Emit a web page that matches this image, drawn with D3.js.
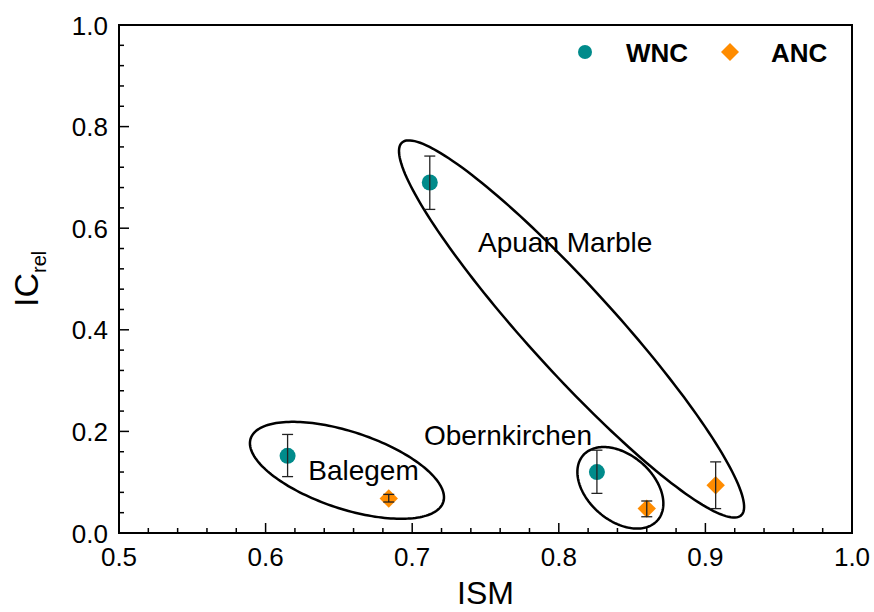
<!DOCTYPE html>
<html>
<head>
<meta charset="utf-8">
<script src="https://cdn.jsdelivr.net/npm/d3@7"></script>
<style>
  body { margin: 0; background: #fff; }
  text { font-family: Arial, "Liberation Sans", sans-serif; }
</style>
</head>
<body>
<div id="chart"></div>
<script>
// ISM vs IC_rel, three stones, WNC and ANC series
var wncIsm = [0.615, 0.712, 0.826];
var wncIc = [0.152, 0.690, 0.120];
var wncLow = [0.111, 0.637, 0.078];
var wncHigh = [0.194, 0.742, 0.163];

var ancIsm = [0.684, 0.860, 0.907];
var ancIc = [0.068, 0.048, 0.094];
var ancLow = [0.061, 0.032, 0.048];
var ancHigh = [0.076, 0.063, 0.140];

var xTicks = [0.5, 0.6, 0.7, 0.8, 0.9, 1.0];
var yTicks = [0.0, 0.2, 0.4, 0.6, 0.8, 1.0];

// groups drawn as ellipses: centre in data units
var groupNames = ["Balegem", "Obernkirchen", "Apuan Marble"];
var groupCx = [0.6555, 0.842, 0.8087];
var groupCy = [0.1234, 0.089, 0.4016];
var labelX = [0.6291, 0.708, 0.7449];
var labelY = [0.1037, 0.1726, 0.5526];

var width = 874, height = 612;
var m = {top: 25, right: 22, bottom: 79, left: 119};

var svg = d3.select("#chart").append("svg")
    .attr("width", width)
    .attr("height", height);

var x = d3.scaleLinear().domain([0.5, 1.0]).range([m.left, width - m.right]);
var y = d3.scaleLinear().domain([0, 1]).range([height - m.bottom, m.top]);

// ellipse shapes (px): semi-axes and tilt
var ellShape = [
    {a: 101.4, b: 38.5, rot: 18.3},
    {a: 49.4, b: 32.7, rot: 41.1},
    {a: 252, b: 43, rot: 47.7}
];

// minor + major ticks, inward
var xMinor = d3.range(0.5, 1.0001, 0.02);
var yMinor = d3.range(0, 1.0001, 0.04);

svg.append("g").selectAll("line")
    .data(xMinor)
    .enter().append("line")
    .attr("x1", function (d) { return x(d); })
    .attr("x2", function (d) { return x(d); })
    .attr("y1", y(0))
    .attr("y2", function (d) {
        var major = Math.abs(Math.round(d * 10) - d * 10) < 1e-6;
        return y(0) - (major ? 10 : 5);
    })
    .attr("stroke", "#000")
    .attr("stroke-width", 1.5);

svg.append("g").selectAll("line")
    .data(yMinor)
    .enter().append("line")
    .attr("y1", function (d) { return y(d); })
    .attr("y2", function (d) { return y(d); })
    .attr("x1", x(0.5))
    .attr("x2", function (d) {
        var major = Math.abs(Math.round(d * 5) - d * 5) < 1e-6;
        return x(0.5) + (major ? 10 : 5);
    })
    .attr("stroke", "#000")
    .attr("stroke-width", 1.5);

// frame
svg.append("rect")
    .attr("x", x(0.5))
    .attr("y", y(1))
    .attr("width", x(1) - x(0.5))
    .attr("height", y(0) - y(1))
    .attr("fill", "none")
    .attr("stroke", "#000")
    .attr("stroke-width", 2);

svg.append("g").selectAll("text")
    .data(xTicks)
    .enter().append("text")
    .attr("x", function (d) { return x(d); })
    .attr("y", y(0) + 33)
    .attr("text-anchor", "middle")
    .attr("font-size", 26)
    .text(function (d) { return d.toFixed(1); });

svg.append("g").selectAll("text")
    .data(yTicks)
    .enter().append("text")
    .attr("x", x(0.5) - 11)
    .attr("y", function (d) { return y(d) + 9.5; })
    .attr("text-anchor", "end")
    .attr("font-size", 26)
    .text(function (d) { return d.toFixed(1); });

// axis titles
svg.append("text")
    .attr("x", (x(0.5) + x(1)) / 2)
    .attr("y", 604)
    .attr("text-anchor", "middle")
    .attr("font-size", 32)
    .text("ISM");

var yt = svg.append("text")
    .attr("transform", "translate(38,307) rotate(-90)")
    .attr("font-size", 34);
yt.append("tspan").text("IC");
yt.append("tspan")
    .attr("font-size", 20)
    .attr("dy", 8)
    .text("rel");

// ellipses
var ell = d3.line().curve(d3.curveLinearClosed);
svg.append("g").selectAll("path")
    .data(groupNames)
    .enter().append("path")
    .attr("d", function (d, i) {
        var s = ellShape[i], cx = x(groupCx[i]), cy = y(groupCy[i]);
        var t = s.rot * Math.PI / 180;
        var pts = d3.range(0, 2 * Math.PI, Math.PI / 90).map(function (p) {
            var ex = s.a * Math.cos(p), ey = s.b * Math.sin(p);
            return [cx + ex * Math.cos(t) - ey * Math.sin(t), cy + ex * Math.sin(t) + ey * Math.cos(t)];
        });
        return ell(pts);
    })
    .attr("fill", "none")
    .attr("stroke", "#000")
    .attr("stroke-width", 2.5);

svg.append("g").selectAll("text")
    .data(groupNames)
    .enter().append("text")
    .attr("x", function (d, i) { return x(labelX[i]); })
    .attr("y", function (d, i) { return y(labelY[i]); })
    .attr("font-size", 28)
    .text(function (d) { return d; });

// markers
var teal = "#008b8b", orange = "#ff8c00";

svg.append("g").selectAll("circle")
    .data(wncIsm)
    .enter().append("circle")
    .attr("cx", function (d) { return x(d); })
    .attr("cy", function (d, i) { return y(wncIc[i]); })
    .attr("r", 8)
    .attr("fill", teal);

svg.append("g").selectAll("path")
    .data(ancIsm)
    .enter().append("path")
    .attr("d", function (d, i) {
        var cx = x(d), cy = y(ancIc[i]), h = 9.2;
        return "M" + cx + "," + (cy - h) + "L" + (cx + h) + "," + cy + "L" + cx + "," + (cy + h) + "L" + (cx - h) + "," + cy + "Z";
    })
    .attr("fill", orange);

// error bars
function errBars(xs, lo, hi) {
    var g = svg.append("g").attr("stroke", "#222").attr("stroke-width", 1.3);
    xs.forEach(function (d, i) {
        var px = x(d);
        g.append("line").attr("x1", px).attr("x2", px).attr("y1", y(lo[i])).attr("y2", y(hi[i]));
        g.append("line").attr("x1", px - 5.5).attr("x2", px + 5.5).attr("y1", y(lo[i])).attr("y2", y(lo[i]));
        g.append("line").attr("x1", px - 5.5).attr("x2", px + 5.5).attr("y1", y(hi[i])).attr("y2", y(hi[i]));
    });
}
errBars(wncIsm, wncLow, wncHigh);
errBars(ancIsm, ancLow, ancHigh);

// legend
svg.append("circle").attr("cx", 585).attr("cy", 52).attr("r", 7).attr("fill", teal);
svg.append("text").attr("x", 626).attr("y", 61.5).attr("font-size", 26).attr("font-weight", "bold").text("WNC");
svg.append("path")
    .attr("d", "M730,43L739,52L730,61L721,52Z")
    .attr("fill", orange);
svg.append("text").attr("x", 771).attr("y", 61.5).attr("font-size", 26).attr("font-weight", "bold").text("ANC");
</script>
</body>
</html>
